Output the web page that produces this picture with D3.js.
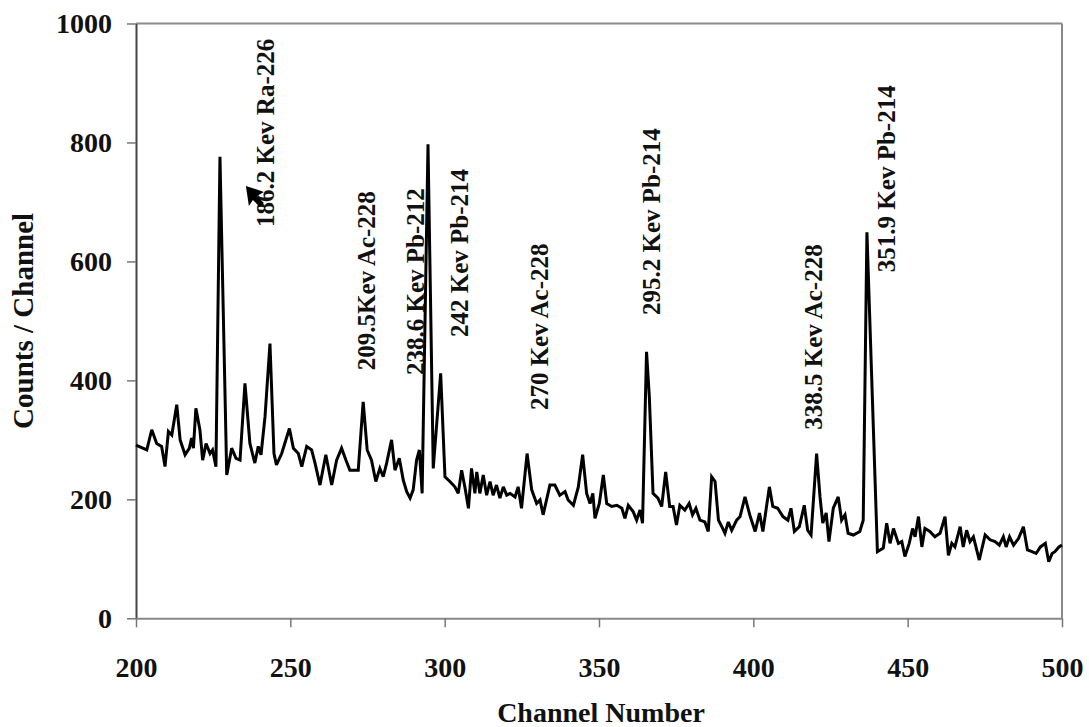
<!DOCTYPE html>
<html>
<head>
<meta charset="utf-8">
<script src="https://cdn.jsdelivr.net/npm/d3@7"></script>
<style>
  html, body { margin: 0; padding: 0; background: #fff; }
  svg { display: block; }
  text { font-family: "Liberation Serif", "Times New Roman", serif; font-weight: bold; fill: #111; }
</style>
</head>
<body>
<svg id="chart" width="1089" height="727"></svg>
<script>
// Gamma spectrum: counts per channel, channels 200-500
const channels = [
  200, 203.5, 205.1, 206.7, 208.3, 209.4, 210.5, 211.6, 213.2, 214.3, 215.9, 217.3, 218.0, 218.6, 219.4,
  220.7, 221.6, 222.7, 224.0, 224.8, 225.9, 227.2, 229.4, 231.0, 232.4, 233.7, 235.3, 236.9, 238.5, 239.6,
  240.5, 241.8, 243.4, 244.7, 245.5, 247.2, 249.7, 251.0, 252.6, 253.7, 255.3, 256.9, 258.0, 259.6, 261.5,
  263.4, 265.0, 266.6, 268.0, 269.3, 272.0, 273.6, 274.9, 276.3, 277.7, 279.0, 280.1, 281.2, 282.8, 283.9,
  285.3, 286.6, 287.7, 288.8, 289.8, 290.9, 291.8, 292.7, 294.6, 296.3, 298.7, 300.1, 301.7, 303.3, 304.4,
  305.5, 306.6, 307.7, 308.7, 309.8, 310.4, 311.4, 312.5, 313.6, 314.7, 315.7, 316.8, 317.9, 319.0, 320.1,
  321.2, 322.8, 323.8, 324.9, 326.7, 328.2, 329.8, 330.9, 331.9, 334.1, 335.7, 337.3, 339.0, 340.0, 341.7,
  343.3, 344.7, 346.0, 347.1, 348.0, 348.7, 350.1, 351.4, 352.5, 354.1, 355.8, 357.4, 358.4, 359.5, 361.1,
  362.2, 363.3, 364.1, 365.4, 366.3, 367.5, 369.1, 370.3, 371.6, 372.9, 374.0, 375.1, 376.2, 377.8, 379.2,
  380.3, 381.4, 382.7, 384.3, 385.4, 386.5, 387.6, 388.7, 389.8, 390.8, 391.9, 393.0, 394.6, 395.7, 397.3,
  399.0, 400.6, 402.0, 403.1, 405.2, 406.3, 407.9, 409.6, 411.2, 412.2, 413.3, 414.9, 416.5, 417.6, 418.7,
  420.5, 421.6, 422.5, 423.6, 424.5, 425.9, 427.5, 428.6, 429.7, 430.7, 432.4, 434.5, 435.6, 436.8, 440.2,
  442.1, 443.2, 444.3, 445.4, 447.0, 448.1, 449.1, 450.5, 451.6, 452.4, 453.5, 454.6, 455.6, 457.2, 458.8,
  460.5, 462.1, 463.2, 464.3, 465.3, 467.0, 468.0, 469.1, 470.2, 471.3, 473.2, 475.1, 476.7, 478.3, 479.7,
  481.0, 481.9, 483.0, 484.3, 485.9, 487.5, 488.8, 490.3, 491.6, 493.0, 494.6, 495.7, 496.8, 497.7, 499.0,
  500.0
];
const counts = [
  291, 283, 317, 294, 289, 255, 314, 308, 359, 300, 275, 286, 303, 286, 353,
  317, 266, 294, 277, 283, 255, 776, 241, 286, 269, 266, 395, 294, 261, 289,
  275, 339, 462, 277, 258, 277, 319, 286, 277, 255, 289, 283, 261, 224, 275,
  224, 266, 286, 266, 249, 249, 364, 283, 266, 230, 252, 238, 261, 300, 249,
  269, 232, 213, 202, 216, 266, 283, 210, 797, 252, 412, 238, 230, 221, 210,
  249, 219, 185, 252, 210, 246, 210, 241, 207, 230, 207, 224, 202, 221, 207,
  210, 204, 221, 185, 277, 216, 193, 199, 174, 224, 224, 207, 213, 199, 190,
  221, 275, 210, 193, 210, 168, 193, 241, 193, 188, 190, 185, 168, 190, 179,
  165, 182, 160, 448, 373, 210, 202, 188, 246, 188, 188, 157, 190, 182, 193,
  174, 185, 165, 162, 146, 238, 230, 165, 154, 143, 162, 148, 165, 171, 204,
  171, 146, 177, 146, 221, 188, 185, 171, 165, 185, 146, 154, 190, 148, 140,
  277, 204, 160, 177, 129, 185, 204, 165, 174, 143, 140, 146, 165, 649, 112,
  118, 160, 126, 151, 126, 129, 104, 126, 151, 137, 171, 120, 151, 146, 137,
  143, 171, 106, 126, 120, 154, 120, 148, 129, 137, 98, 140, 132, 129, 123,
  137, 120, 137, 123, 134, 154, 115, 112, 109, 120, 126, 95, 109, 112, 120,
  123
];

const xTicks = [200, 250, 300, 350, 400, 450, 500];
const yTicks = [0, 200, 400, 600, 800, 1000];

// Peak identifications, anchored at the foot of each rotated label
const peakLabels = [
  "186.2 Kev Ra-226", "209.5Kev Ac-228", "238.6 Kev Pb-212", "242 Kev Pb-214",
  "270 Kev Ac-228", "295.2 Kev Pb-214", "338.5 Kev Ac-228", "351.9 Kev Pb-214"
];
const labelChannel = [244.7, 277.4, 293.3, 307.6, 333.5, 369.8, 422.2, 445.9];
const labelCount   = [658, 417, 409, 473, 350, 510, 317, 582];

// Pointer marker near the Ra-226 label
const pointerAt = { channel: 235.6, count: 727 };

const svg = d3.select("#chart");
const plotL = 136, plotR = 1062, plotT = 23.5, plotB = 618.3;

const x = d3.scaleLinear().domain([200, 500]).range([plotL, plotR]);
const y = d3.scaleLinear().domain([0, 1000]).range([plotB, plotT]);

// Frame (top and right edges)
svg.append("line").attr("x1", plotL).attr("x2", plotR).attr("y1", plotT).attr("y2", plotT)
  .attr("stroke", "#8a8a8a").attr("stroke-width", 2);
svg.append("line").attr("x1", plotR).attr("x2", plotR).attr("y1", plotT).attr("y2", plotB)
  .attr("stroke", "#8a8a8a").attr("stroke-width", 2);

// Y axis
const yAxis = svg.append("g").attr("transform", `translate(${plotL},0)`)
  .call(d3.axisLeft(y).tickValues(yTicks).tickFormat(d3.format("d"))
    .tickSize(9).tickSizeOuter(0).tickPadding(15));
yAxis.select(".domain").attr("stroke", "#444").attr("stroke-width", 2);
yAxis.selectAll(".tick line").attr("stroke", "#777").attr("stroke-width", 1.5);
yAxis.selectAll(".tick text").style("font-size", "28px")
  .style("font-family", "'Liberation Serif', serif").style("font-weight", "bold").attr("fill", "#111");

// X axis
const xAxis = svg.append("g").attr("transform", `translate(0,${plotB})`)
  .call(d3.axisBottom(x).tickValues(xTicks).tickFormat(d3.format("d"))
    .tickSize(9).tickSizeOuter(0).tickPadding(30));
xAxis.select(".domain").attr("stroke", "#888").attr("stroke-width", 2);
xAxis.selectAll(".tick line").attr("stroke", "#777").attr("stroke-width", 1.5);
xAxis.selectAll(".tick text").style("font-size", "28px")
  .style("font-family", "'Liberation Serif', serif").style("font-weight", "bold").attr("fill", "#111");

// Spectrum trace
const pts = channels.map((c, i) => [c, counts[i]]);
const line = d3.line().x(d => x(d[0])).y(d => y(d[1]));
svg.append("path").datum(pts)
  .attr("d", line)
  .attr("fill", "none")
  .attr("stroke", "#000")
  .attr("stroke-width", 3)
  .attr("stroke-linejoin", "miter")
  .attr("stroke-miterlimit", 3);

// Peak labels
svg.append("g").selectAll("text")
  .data(peakLabels)
  .join("text")
  .attr("transform", (d, i) => `translate(${x(labelChannel[i])},${y(labelCount[i])}) rotate(-90)`)
  .attr("text-anchor", "start")
  .style("font-size", "25px")
  .text(d => d);

// Pointer arrow
svg.append("path")
  .attr("transform", `translate(${x(pointerAt.channel)},${y(pointerAt.count)})`)
  .attr("d", "M0,0 L18,6 L11,10 L18,17 L14,21 L7,14 L3,20 Z")
  .attr("fill", "#000");

// Axis titles
svg.append("text")
  .attr("x", (plotL + plotR) / 2 + 2)
  .attr("y", 722)
  .attr("text-anchor", "middle")
  .style("font-size", "28px")
  .text("Channel Number");

svg.append("text")
  .attr("transform", `translate(33,${(plotT + plotB) / 2}) rotate(-90)`)
  .attr("text-anchor", "middle")
  .style("font-size", "29px")
  .text("Counts / Channel");
</script>
</body>
</html>
